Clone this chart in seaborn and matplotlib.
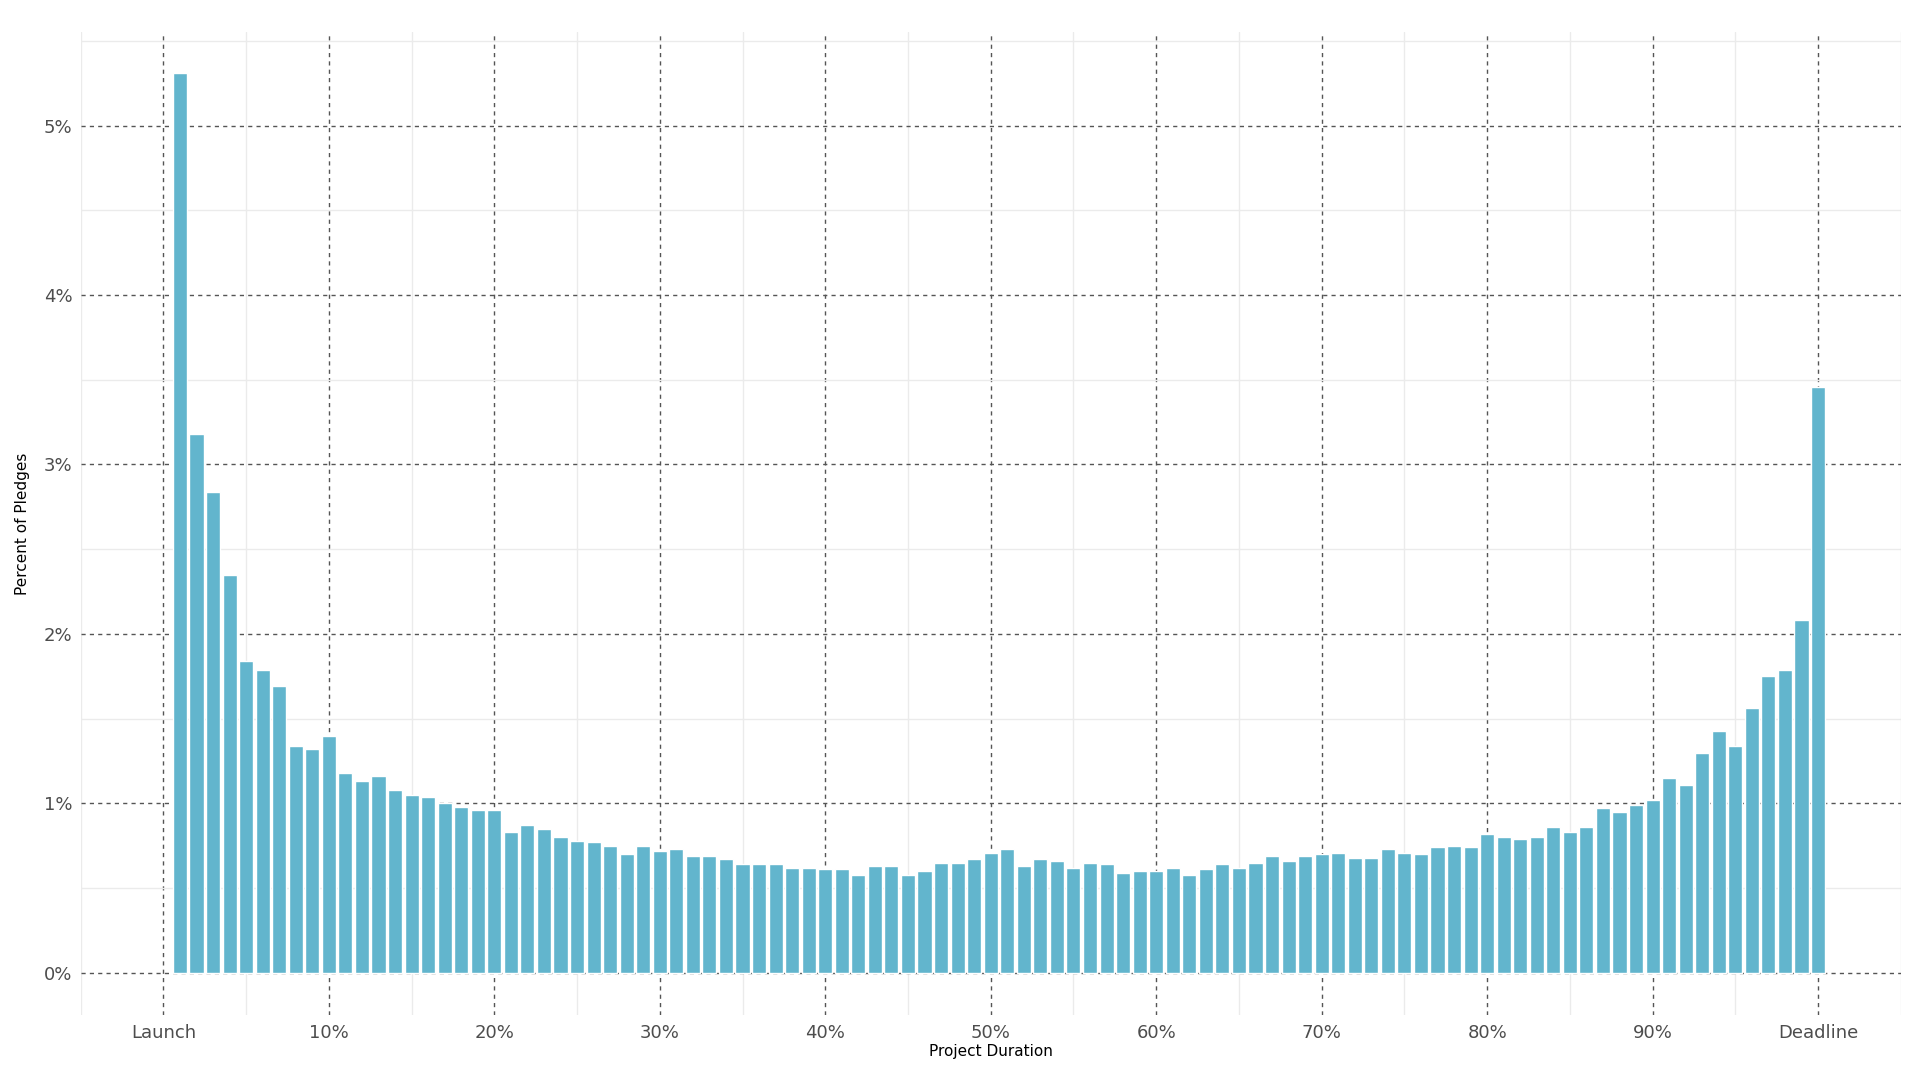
import numpy as np
import pandas as pd
import matplotlib
matplotlib.use("Agg")
import matplotlib.pyplot as plt
import seaborn as sns
from matplotlib.ticker import MultipleLocator, FuncFormatter

# Percent of pledges by percent of project duration (1..100)
duration = list(range(1, 101))
pct_pledges = [
    5.31, 3.18, 2.84, 2.35, 1.84, 1.79, 1.69, 1.34, 1.32, 1.40,
    1.18, 1.13, 1.16, 1.08, 1.05, 1.04, 1.00, 0.98, 0.96, 0.96,
    0.83, 0.87, 0.85, 0.80, 0.78, 0.77, 0.75, 0.70, 0.75, 0.72,
    0.73, 0.69, 0.69, 0.67, 0.64, 0.64, 0.64, 0.62, 0.62, 0.61,
    0.61, 0.58, 0.63, 0.63, 0.58, 0.60, 0.65, 0.65, 0.67, 0.71,
    0.73, 0.63, 0.67, 0.66, 0.62, 0.65, 0.64, 0.59, 0.60, 0.60,
    0.62, 0.58, 0.61, 0.64, 0.62, 0.65, 0.69, 0.66, 0.69, 0.70,
    0.71, 0.68, 0.68, 0.73, 0.71, 0.70, 0.74, 0.75, 0.74, 0.82,
    0.80, 0.79, 0.80, 0.86, 0.83, 0.86, 0.97, 0.95, 0.99, 1.02,
    1.15, 1.11, 1.30, 1.43, 1.34, 1.56, 1.75, 1.79, 2.08, 3.46,
]
x_ticks = [0, 10, 20, 30, 40, 50, 60, 70, 80, 90, 100]
x_labels = ["Launch", "10%", "20%", "30%", "40%", "50%", "60%", "70%", "80%", "90%", "Deadline"]

df = pd.DataFrame({"duration": duration, "pct": pct_pledges})

sns.set_style("white")
fig, ax = plt.subplots(figsize=(19.2, 10.8), dpi=100)
fig.subplots_adjust(left=0.042, right=0.99, top=0.97, bottom=0.06)

sns.barplot(data=df, x="duration", y="pct", native_scale=True, color="#62B5CD",
            saturation=1, width=0.85, ax=ax, zorder=3)

ax.set_xlim(-5, 105)
ax.set_ylim(-0.25, 5.55)
ax.set_xticks(x_ticks)
ax.set_xticklabels(x_labels)
ax.xaxis.set_minor_locator(MultipleLocator(5))
ax.yaxis.set_major_locator(MultipleLocator(1))
ax.yaxis.set_minor_locator(MultipleLocator(0.5))
ax.yaxis.set_major_formatter(FuncFormatter(lambda v, p: f"{v:.0f}%"))

ax.grid(which="minor", color="#EBEBEB", linewidth=1, linestyle="-", zorder=0)
ax.grid(which="major", color="#555555", linewidth=1, linestyle=(0, (3, 3)), zorder=1)
ax.set_axisbelow(True)
for s in ax.spines.values():
    s.set_visible(False)
ax.tick_params(axis="both", which="both", length=0, labelsize=13, labelcolor="#4D4D4D", pad=6)

ax.set_xlabel("Project Duration", fontsize=11, color="black", labelpad=2)
ax.set_ylabel("Percent of Pledges", fontsize=11, color="black", labelpad=10)

fig.savefig("out.png", dpi=100)
